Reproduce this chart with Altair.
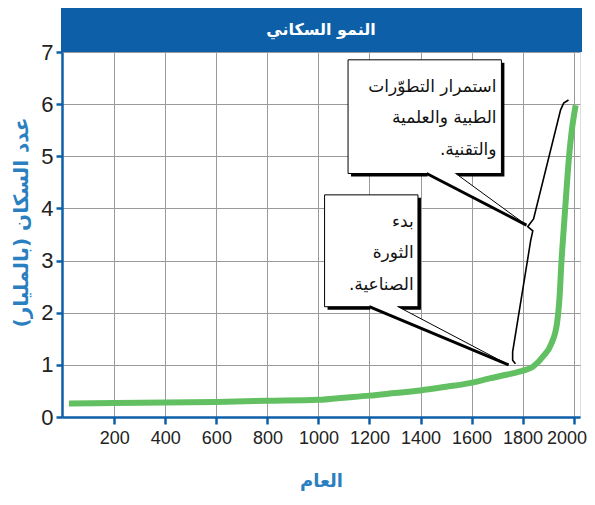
import altair as alt
import pandas as pd

# ---- data ----
years = [22, 200, 400, 600, 800, 1000, 1100, 1200, 1300, 1400, 1500, 1593, 1671, 1736,
         1795, 1841, 1880, 1913, 1935, 1945, 1952, 1961, 1972, 1982, 1993, 2008]
population = [0.26, 0.27, 0.28, 0.29, 0.31, 0.33, 0.37, 0.41, 0.46, 0.51, 0.58, 0.65, 0.74, 0.81,
              0.88, 0.965, 1.16, 1.41, 1.80, 2.31, 2.95, 3.59, 4.35, 4.99, 5.50, 5.98]

x_ticks = [200, 400, 600, 800, 1000, 1200, 1400, 1600, 1800, 2000]
y_ticks = [0, 1, 2, 3, 4, 5, 6, 7]

RLM = "\u200f"
title_text = "النمو السكاني"
x_title = "العام"
y_title = "عدد السكان (بالمليار)" + RLM

box_texts = ["استمرار التطوّرات\nالطبية والعلمية\nوالتقنية." + RLM, "بدء\nالثورة\nالصناعية." + RLM]
# annotation boxes in data units
box_x = [1116, 1024]
box_x2 = [1717, 1390]
box_y = [6.85, 4.26]
box_y2 = [4.67, 2.115]
text_x = [1698, 1373]
text_y = [6.335, 3.746]

# callout pointer wedges (base left, base right, tip)
wedge_base_left = [1424, 1199]
wedge_base_right = [1538, 1312]
wedge_base_y = [4.67, 2.115]
wedge_tip_x = [1815, 1745]
wedge_tip_y = [3.68, 1.0]

# brace
brace_x = [1980, 1961, 1949, 1843, 1820, 1840, 1832, 1761, 1761, 1772]
brace_y = [6.08, 6.02, 5.89, 3.80, 3.65, 3.57, 3.39, 1.25, 1.09, 1.02]

BLUE = "#0d5fa8"
TITLE_BLUE = "#2a7fc0"
GREEN = "#62c062"
W, H = 518, 365
LABEL_FONT = "Liberation Sans Narrow, Liberation Sans"

xs = alt.Scale(domain=[-5, 2025], nice=False, zero=False)
ys = alt.Scale(domain=[0, 7], nice=False)

pop_df = pd.DataFrame({"year": years, "pop": population})

base_axes = alt.Chart(pop_df).mark_line(opacity=0).encode(
    x=alt.X("year:Q", scale=xs,
            axis=alt.Axis(values=x_ticks, format="d", labelOverlap=False, title=x_title, grid=True,
                          gridColor="#9a9a9a", gridWidth=1, domainColor=BLUE, domainWidth=2.5,
                          tickColor=BLUE, tickWidth=2.5, tickSize=7, labelFont=LABEL_FONT,
                          labelFontSize=18, labelColor="#222", labelPadding=5,
                          labelFlush=10, labelFlushOffset=13,
                          titleColor=TITLE_BLUE, titleFont="DejaVu Sans", titleFontSize=18,
                          titleFontWeight="bold", titleX=W / 2, titleY=64, titleBaseline="middle")),
    y=alt.Y("pop:Q", scale=ys,
            axis=alt.Axis(values=y_ticks, format="d", labelOverlap=False, title=y_title, grid=True,
                          gridColor="#9a9a9a", gridWidth=1, domainColor=BLUE, domainWidth=2.5,
                          tickColor=BLUE, tickWidth=2.5, tickSize=6, labelFont=LABEL_FONT,
                          labelFontSize=22, labelColor="#222", labelPadding=3,
                          titleColor=TITLE_BLUE, titleFont="DejaVu Sans", titleFontSize=20,
                          titleFontWeight="bold", titleX=-41, titleY=170, titleBaseline="middle",
                          titleAngle=270)),
)

line = alt.Chart(pop_df).mark_line(color=GREEN, strokeWidth=6, interpolate="monotone").encode(
    x=alt.X("year:Q", scale=xs), y=alt.Y("pop:Q", scale=ys))

brace_df = pd.DataFrame({"x": brace_x, "y": brace_y, "o": list(range(len(brace_x)))})
brace = alt.Chart(brace_df).mark_line(color="black", strokeWidth=1.6).encode(
    x=alt.X("x:Q", scale=xs), y=alt.Y("y:Q", scale=ys), order="o:Q")

# wedge fill as horizontal area (triangle)
n = len(wedge_tip_x)
wf_df = pd.DataFrame({
    "id": list(range(n)) * 2,
    "y": wedge_base_y + wedge_tip_y,
    "xl": wedge_base_left + wedge_tip_x,
    "xr": wedge_base_right + wedge_tip_x,
})
wedge_fill = alt.Chart(wf_df).mark_area(color="white", orient="horizontal", opacity=1).encode(
    y=alt.Y("y:Q", scale=ys), x=alt.X("xl:Q", scale=xs), x2="xr:Q", detail="id:N")

wl_df = pd.DataFrame({"x": wedge_base_left, "y": wedge_base_y, "x2": wedge_tip_x, "y2": wedge_tip_y})
wr_df = pd.DataFrame({"x": wedge_base_right, "y": wedge_base_y, "x2": wedge_tip_x, "y2": wedge_tip_y})
wedge_l = alt.Chart(wl_df).mark_rule(color="black", strokeWidth=3).encode(
    x=alt.X("x:Q", scale=xs), y=alt.Y("y:Q", scale=ys), x2="x2:Q", y2="y2:Q")
wedge_r = alt.Chart(wr_df).mark_rule(color="black", strokeWidth=1).encode(
    x=alt.X("x:Q", scale=xs), y=alt.Y("y:Q", scale=ys), x2="x2:Q", y2="y2:Q")
gap_df = pd.DataFrame({"x": wedge_base_left, "x2": wedge_base_right, "y": wedge_base_y})
gap = alt.Chart(gap_df).mark_rule(color="white", strokeWidth=7, xOffset=1, x2Offset=-1).encode(
    x=alt.X("x:Q", scale=xs), x2="x2:Q", y=alt.Y("y:Q", scale=ys))

box_df = pd.DataFrame({"x": box_x, "x2": box_x2, "y": box_y, "y2": box_y2,
                       "t": box_texts, "tx": text_x, "ty": text_y})
shadow = alt.Chart(box_df).mark_rect(color="black", xOffset=3, yOffset=3, x2Offset=3, y2Offset=3).encode(
    x=alt.X("x:Q", scale=xs), x2="x2:Q", y=alt.Y("y:Q", scale=ys), y2="y2:Q")
boxes = alt.Chart(box_df).mark_rect(fill="white", stroke="black", strokeWidth=1).encode(
    x=alt.X("x:Q", scale=xs), x2="x2:Q", y=alt.Y("y:Q", scale=ys), y2="y2:Q")
texts = alt.Chart(box_df).mark_text(align="right", baseline="middle", font="DejaVu Sans",
                                   fontSize=17, lineBreak="\n", lineHeight=31.5, color="#111").encode(
    x=alt.X("tx:Q", scale=xs), y=alt.Y("ty:Q", scale=ys), text="t:N")

title_bar = alt.Chart(pd.DataFrame({"t": [title_text]})).mark_rect(color=BLUE).encode(
    x=alt.value(-1), x2=alt.value(W + 2), y=alt.value(-48), y2=alt.value(0))
title_lbl = alt.Chart(pd.DataFrame({"t": [title_text]})).mark_text(
    color="white", font="DejaVu Sans", fontSize=16, fontWeight="bold", baseline="middle").encode(
    x=alt.value(W / 2), y=alt.value(-22), text="t:N")

chart = alt.layer(base_axes, line, brace, shadow, boxes, gap, wedge_fill, wedge_l, wedge_r, texts,
                  title_bar, title_lbl).properties(
    width=W, height=H, padding={"left": 54, "top": 44, "right": 7, "bottom": 80},
    autosize=alt.AutoSizeParams(type="none"),
).configure_view(stroke=BLUE, strokeWidth=2.5).configure(background="white")

chart.save("out.html", embed_options={"renderer": "svg", "actions": False})
